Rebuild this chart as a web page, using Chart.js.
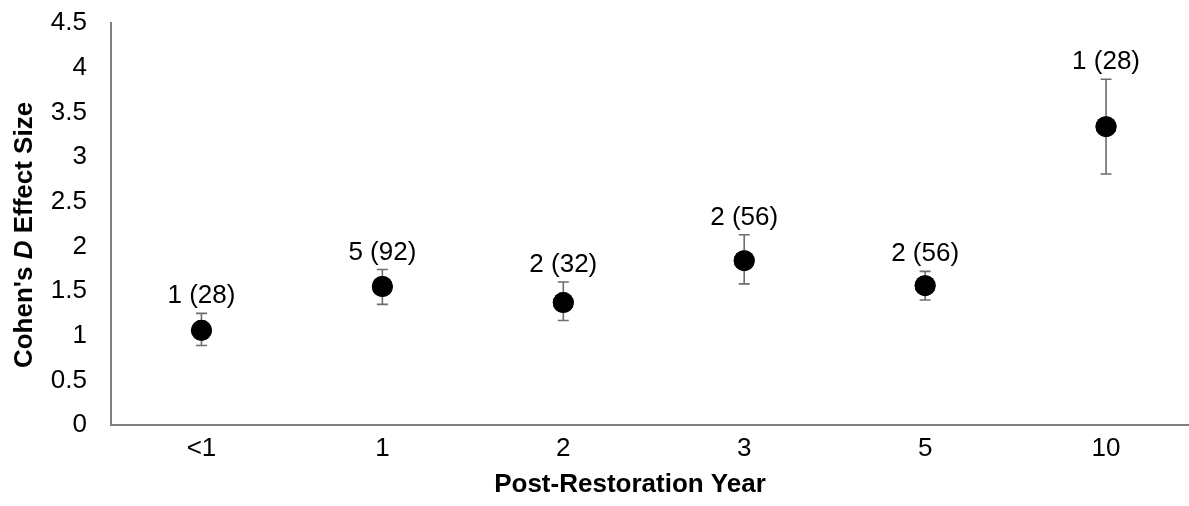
<!DOCTYPE html>
<html>
<head>
<meta charset="utf-8">
<script src="https://cdn.jsdelivr.net/npm/chart.js@4.4.1/dist/chart.umd.min.js"></script>
<style>
    html, body { margin: 0; padding: 0; background: #fff; overflow: hidden; }
    #wrap { position: relative; width: 1207px; height: 506px; }
</style>
</head>
<body>
<div id="wrap"><canvas id="chart"></canvas></div>
<script>
// Data
const years = ['<1', '1', '2', '3', '5', '10'];
const effectSize = [1.06, 1.55, 1.37, 1.84, 1.56, 3.34];
const upperBound = [1.25, 1.74, 1.60, 2.13, 1.72, 3.87];
const lowerBound = [0.89, 1.35, 1.17, 1.58, 1.40, 2.81];
const pointLabels = ['1 (28)', '5 (92)', '2 (32)', '2 (56)', '2 (56)', '1 (28)'];

const FONT = '"Liberation Sans", Arial, sans-serif';
const AXIS_GREY = '#7f7f7f';
const BAR_GREY = '#6d6d6d';

// Error bars and the "n (N)" labels above them
const errorBarPlugin = {
    id: 'errorBars',
    afterDatasetsDraw(chart) {
        const ctx = chart.ctx;
        const x = chart.scales.x;
        const y = chart.scales.y;
        ctx.save();
        ctx.strokeStyle = BAR_GREY;
        ctx.lineWidth = 1.6;
        for (let i = 0; i < years.length; i++) {
            const px = x.getPixelForValue(i);
            const top = y.getPixelForValue(upperBound[i]);
            const bot = y.getPixelForValue(lowerBound[i]);
            ctx.beginPath();
            ctx.moveTo(px, top); ctx.lineTo(px, bot);
            ctx.moveTo(px - 5.5, top); ctx.lineTo(px + 5.5, top);
            ctx.moveTo(px - 5.5, bot); ctx.lineTo(px + 5.5, bot);
            ctx.stroke();

            ctx.fillStyle = '#000';
            ctx.font = '26px ' + FONT;
            ctx.textAlign = 'center';
            ctx.textBaseline = 'alphabetic';
            ctx.fillText(pointLabels[i], px, top - 10);
        }
        ctx.restore();
    },
    // redraw the dots on top of the bars
    afterDraw(chart) {
        const meta = chart.getDatasetMeta(0);
        chart.ctx.save();
        meta.data.forEach(pt => pt.draw(chart.ctx));
        chart.ctx.restore();
    }
};

// Axis titles (y title has an italic D)
const titlePlugin = {
    id: 'axisTitles',
    afterDraw(chart) {
        const ctx = chart.ctx;
        ctx.save();
        ctx.fillStyle = '#000';
        ctx.textBaseline = 'alphabetic';

        ctx.font = 'bold 26px ' + FONT;
        ctx.textAlign = 'center';
        ctx.fillText('Post-Restoration Year', 630, 492);

        const parts = [
            { t: "Cohen's ", f: 'bold 26px ' + FONT },
            { t: 'D', f: 'italic bold 26px ' + FONT },
            { t: ' Effect Size', f: 'bold 26px ' + FONT }
        ];
        let total = 0;
        parts.forEach(p => { ctx.font = p.f; p.w = ctx.measureText(p.t).width; total += p.w; });
        ctx.translate(32, 235);
        ctx.rotate(-Math.PI / 2);
        ctx.textAlign = 'left';
        let cx = -total / 2;
        parts.forEach(p => { ctx.font = p.f; ctx.fillText(p.t, cx, 0); cx += p.w; });
        ctx.restore();
    }
};

const ctx = document.getElementById('chart').getContext('2d');
new Chart(ctx, {
    type: 'line',
    data: {
        labels: years,
        datasets: [{
            data: effectSize,
            showLine: false,
            pointRadius: 10.5,
            pointBackgroundColor: '#000',
            pointBorderColor: '#000',
            pointBorderWidth: 0
        }]
    },
    options: {
        responsive: true,
        maintainAspectRatio: false,
        animation: false,
        layout: { padding: { top: 23, right: 3, left: 0, bottom: 0 } },
        plugins: {
            legend: { display: false },
            tooltip: { enabled: false }
        },
        scales: {
            x: {
                type: 'category',
                offset: true,
                grid: { display: false, drawTicks: false },
                border: { display: true, color: AXIS_GREY, width: 2 },
                ticks: {
                    color: '#000',
                    padding: 8,
                    maxRotation: 0,
                    font: { family: FONT, size: 26 }
                },
                afterFit(scale) { scale.height = 81; }
            },
            y: {
                min: 0,
                max: 4.5,
                grid: { display: false, drawTicks: false },
                border: { display: true, color: AXIS_GREY, width: 2 },
                ticks: {
                    stepSize: 0.5,
                    color: '#000',
                    padding: 24,
                    font: { family: FONT, size: 26 },
                    callback: value => String(value)
                },
                afterFit(scale) {
                    scale.width = 111;
                    scale.paddingTop = 0;
                    scale.paddingBottom = 0;
                }
            }
        }
    },
    plugins: [errorBarPlugin, titlePlugin]
});
</script>
</body>
</html>
